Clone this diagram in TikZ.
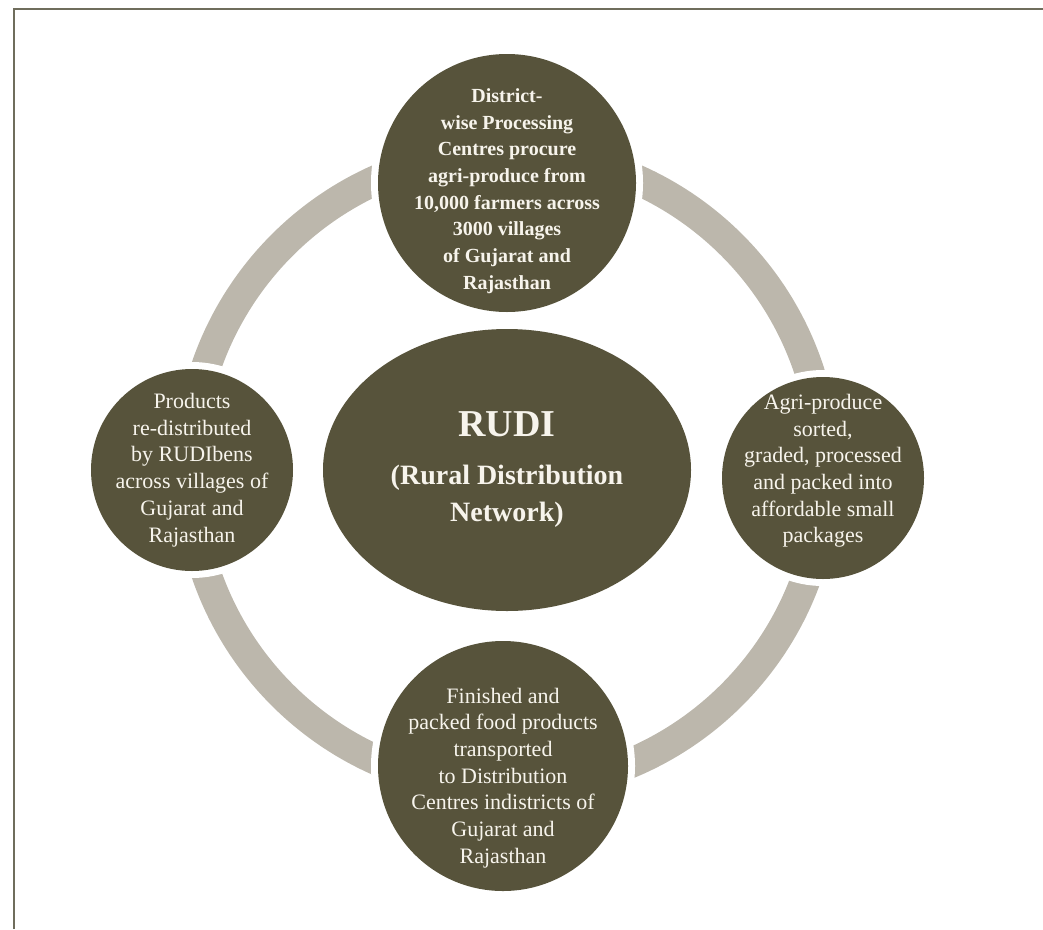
\documentclass[tikz,border=0pt]{standalone}
\usepackage{fontspec}
\setmainfont{Liberation Serif}
\usetikzlibrary{shapes,positioning}
\definecolor{olivedark}{HTML}{57533B}
\definecolor{ringgrey}{HTML}{BCB7AC}
\definecolor{framegrey}{HTML}{6F6D5C}
\definecolor{textcream}{HTML}{F7F4EC}
\tikzstyle{stage} = [circle,fill=olivedark,text=textcream,inner sep=-30pt,align=center,preaction={draw=white,line width=14pt},font=\fontsize{22}{26.7}\selectfont]
\tikzstyle{hub} = [ellipse,fill=olivedark,text=textcream,inner sep=0,minimum width=368pt,minimum height=282pt,align=center,font=\bfseries\fontsize{28}{37}\selectfont]
\tikzstyle{ring} = [draw=ringgrey,line width=30pt]
\tikzstyle{frame} = [draw=framegrey,line width=2pt]
\def \lift {\rule{0pt}{30pt}}
\def \sink {\rule[-19pt]{0pt}{19pt}}

\begin{document}
\begin{tikzpicture}[x=1pt,y=-1pt]
      \useasboundingbox (0,0) rectangle (1043,929);
      \coordinate (corner) at (14,9);
      \draw[frame] (corner |- 0,929) -- (corner) -- (1043,9);
      \coordinate (ctr) at (507,470);
      \draw[ring] (ctr) circle (318pt);
      \node[hub] (rudi) at (ctr) {{\fontsize{38}{46}\selectfont RUDI}\\[11pt](Rural Distribution\\Network)};
      \node[stage,minimum size=258pt,font=\bfseries\fontsize{20}{26.7}\selectfont] (procure) at (507,183)
        {\lift District-\\wise Processing\\Centres procure\\agri-produce from\\10,000 farmers across\\3000 villages\\of Gujarat and\\Rajasthan};
      \node[stage,minimum size=202pt] (pack) at (823,478)
        {Agri-produce\\sorted,\\graded, processed\\and packed into\\affordable small\\packages\sink};
      \node[stage,minimum size=250pt] (transport) at (503,766)
        {\rule{0pt}{39pt}Finished and\\packed food products\\transported\\to Distribution\\Centres indistricts of\\Gujarat and\\Rajasthan};
      \node[stage,minimum size=202pt] (redistribute) at (192,470)
        {Products\\re-distributed\\by RUDIbens\\across villages of\\Gujarat and\\Rajasthan};
\end{tikzpicture}
\end{document}
